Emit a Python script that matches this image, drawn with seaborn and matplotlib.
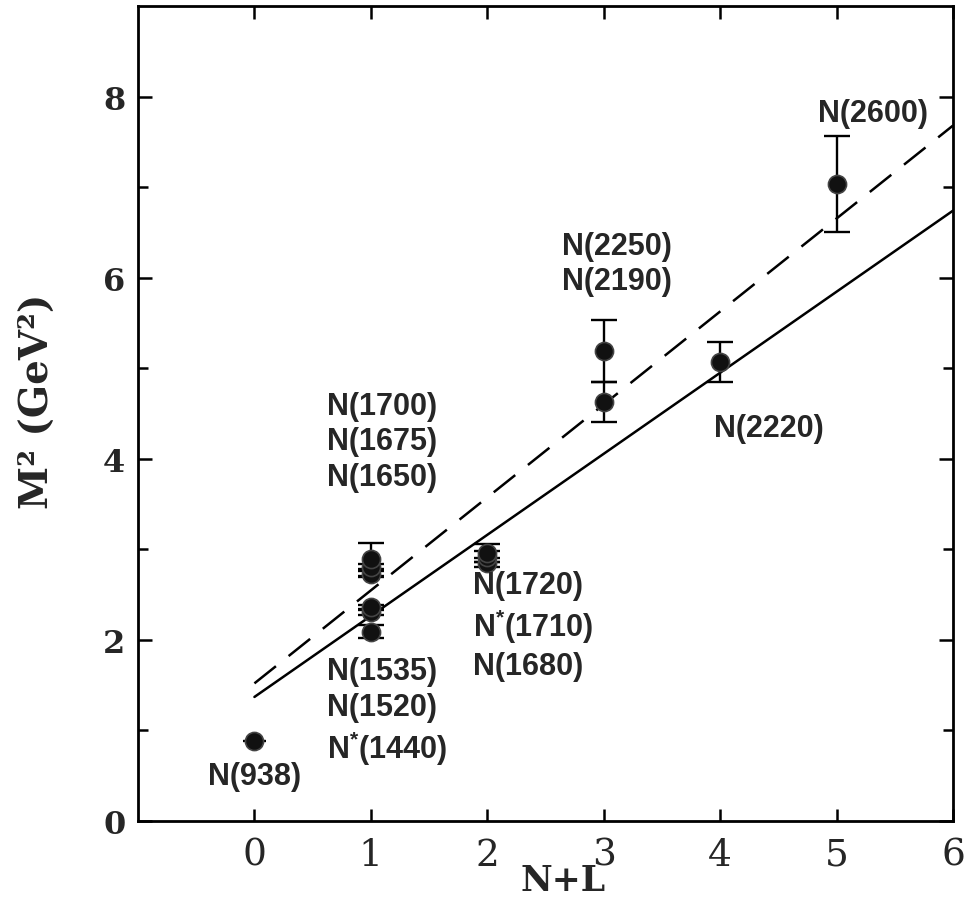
import matplotlib
matplotlib.use("Agg")
import matplotlib.pyplot as plt
import seaborn as sns
import numpy as np
import pandas as pd

# ---- data ----
nl = [0, 1, 1, 1, 1, 1, 1, 2, 2, 2, 3, 3, 4, 5]
m2 = [0.88, 2.09, 2.31, 2.36, 2.73, 2.81, 2.89, 2.85, 2.92, 2.96, 4.63, 5.19, 5.07, 7.03]
m2_err = [0.0, 0.07, 0.03, 0.03, 0.03, 0.03, 0.18, 0.05, 0.06, 0.10, 0.22, 0.34, 0.22, 0.53]
nl_err = [0.10, 0, 0, 0, 0, 0, 0, 0, 0, 0, 0, 0, 0, 0]

fit_x = [0, 6]
fit_solid = [1.37, 6.74]
fit_dashed = [1.52, 7.68]

labels = ["N(938)",
          "N(1535)\nN(1520)\nN$^{*}$(1440)",
          "N(1700)\nN(1675)\nN(1650)",
          "N(1720)\nN$^{*}$(1710)\nN(1680)",
          "N(2250)\nN(2190)",
          "N(2220)",
          "N(2600)"]
label_x = [0.0, 0.62, 0.62, 1.88, 3.115, 4.42, 5.31]
label_y = [0.50, 1.64, 4.57, 2.59, 6.34, 4.34, 7.82]
label_ha = ["center", "left", "left", "left", "center", "center", "center"]

xticks = [0, 1, 2, 3, 4, 5, 6]
yticks = [0, 2, 4, 6, 8]

# ---- style ----
sns.set_theme(style="ticks")
plt.rcParams["font.family"] = ["DejaVu Serif"]
plt.rcParams["mathtext.fontset"] = "custom"
plt.rcParams["mathtext.rm"] = "Liberation Sans:bold"
plt.rcParams["mathtext.it"] = "Liberation Sans:bold"
plt.rcParams["mathtext.bf"] = "Liberation Sans:bold"

fig = plt.figure(figsize=(9.69, 9.04), dpi=100)
ax = fig.add_axes([138/969, 1-822/904, (953-138)/969, (822-7)/904])

df = pd.DataFrame({"nl": nl, "m2": m2})

# fit lines
sns.lineplot(x=fit_x, y=fit_solid, ax=ax, color="black", lw=1.8, zorder=2)
sns.lineplot(x=fit_x, y=fit_dashed, ax=ax, color="black", lw=1.8, zorder=2,
             linestyle=(0, (11, 6.5)))

# error bars
yerr_mask = np.array(m2_err) > 0
ax.errorbar(np.array(nl)[yerr_mask], np.array(m2)[yerr_mask],
            yerr=np.array(m2_err)[yerr_mask], fmt="none", ecolor="black",
            elinewidth=1.7, capsize=9.7, capthick=1.7, zorder=3)
xerr_mask = np.array(nl_err) > 0
ax.errorbar(np.array(nl)[xerr_mask], np.array(m2)[xerr_mask],
            xerr=np.array(nl_err)[xerr_mask], fmt="none", ecolor="black",
            elinewidth=1.7, capsize=0, zorder=3)

# points
sns.scatterplot(data=df, x="nl", y="m2", ax=ax, s=170, color="#111111",
                edgecolor="#444444", linewidth=1.2, zorder=4, legend=False)

for t, x, y, ha in zip(labels, label_x, label_y, label_ha):
    multi = "\n" in t
    ax.text(x, y + (0.18 if multi else 0.0), t, ha=ha,
            va="top" if multi else "center",
            fontsize=22, fontweight="bold", family="Liberation Sans",
            linespacing=1.24, zorder=5)

ax.set_xlim(-1, 6)
ax.set_ylim(0, 9)
ax.set_xticks(xticks)
ax.set_yticks(yticks)
ax.set_yticks([1, 3, 5, 7], minor=True)
ax.set_xticklabels([str(v) for v in xticks], fontsize=27, family="DejaVu Serif")
ax.set_yticklabels([str(v) for v in yticks], fontsize=23, fontweight="bold",
                   family="DejaVu Serif")

ax.tick_params(axis="both", which="both", direction="in", top=True, right=True,
               color="black", width=1.8)
ax.tick_params(axis="y", which="major", length=10, pad=9)
ax.tick_params(axis="y", which="minor", length=7)
ax.tick_params(axis="x", which="major", length=9, pad=11.5)

for s in ax.spines.values():
    s.set_linewidth(2.0)
    s.set_color("black")

ax.set_xlabel("N+L", fontsize=25, fontweight="bold", family="DejaVu Serif")
ax.set_ylabel("M² (GeV²)", fontsize=28, fontweight="bold", family="DejaVu Serif")
ax.xaxis.set_label_coords(0.521, -0.051)
ax.yaxis.set_label_coords(-0.101, 0.516)

fig.savefig("out.png", dpi=100)
